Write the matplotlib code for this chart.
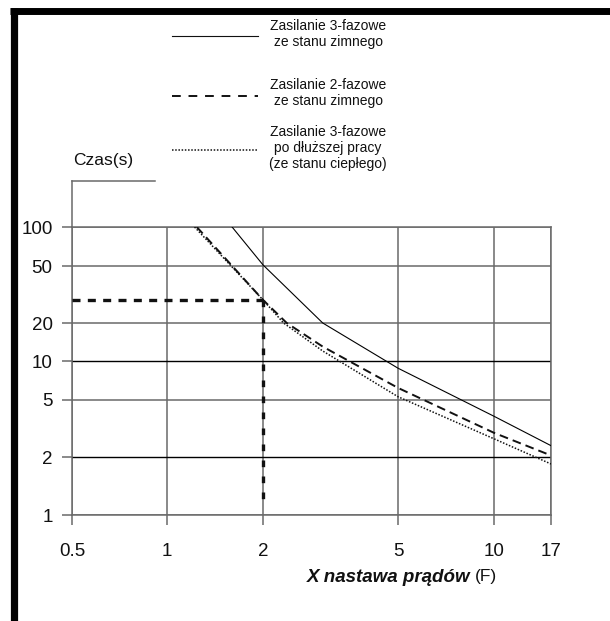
import numpy as np
import matplotlib
matplotlib.use('Agg')
import matplotlib.pyplot as plt
from matplotlib.lines import Line2D

plt.rcParams['font.family'] = ['Liberation Sans', 'DejaVu Sans']

# axis ticks
xticks = [0.5, 1, 2, 5, 10, 17]
xticklabels = ['0.5', '1', '2', '5', '10', '17']
yticks = [1, 2, 5, 10, 20, 50, 100]
yticklabels = ['1', '2', '5', '10', '20', '50', '100']

# curves
x_3f_cold = [1.6, 2, 3, 5, 10, 17]
y_3f_cold = [100, 51, 20, 8.8, 3.85, 2.4]

x_2f_cold = [1.24, 2, 2.35, 3, 5, 10, 17]
y_2f_cold = [100, 29, 20, 13, 6.2, 2.95, 2.05]

x_3f_warm = [1.22, 2, 2.3, 3, 5, 10, 17]
y_3f_warm = [100, 29, 20, 12, 5.3, 2.68, 1.84]

# example reading: setting 2 -> about 29 s
x_read = 2
y_read = 29

legend_labels = ['Zasilanie 3-fazowe\nze stanu zimnego',
                 'Zasilanie 2-fazowe\nze stanu zimnego',
                 'Zasilanie 3-fazowe\npo dłuższej pracy\n(ze stanu ciepłego)']

# the printed scale is only roughly logarithmic: pixel place of every tick
W, H = 610, 621
xtick_px = [72, 167, 263, 398, 494, 551]
ytick_px = [515, 457, 400, 361, 323, 266, 227]


def make_scale(vals, pos):
    lv = np.log10(vals)
    pos = np.asarray(pos, float)

    def fwd(v):
        v = np.log10(np.clip(np.asarray(v, float), 1e-9, None))
        out = np.interp(v, lv, pos)
        lo_s = (pos[1] - pos[0]) / (lv[1] - lv[0])
        hi_s = (pos[-1] - pos[-2]) / (lv[-1] - lv[-2])
        out = np.where(v < lv[0], pos[0] + (v - lv[0]) * lo_s, out)
        out = np.where(v > lv[-1], pos[-1] + (v - lv[-1]) * hi_s, out)
        return out

    def inv(p):
        p = np.asarray(p, float)
        out = np.interp(p, pos, lv)
        lo_s = (lv[1] - lv[0]) / (pos[1] - pos[0])
        hi_s = (lv[-1] - lv[-2]) / (pos[-1] - pos[-2])
        out = np.where(p < pos[0], lv[0] + (p - pos[0]) * lo_s, out)
        out = np.where(p > pos[-1], lv[-1] + (p - pos[-1]) * hi_s, out)
        return 10 ** out

    return fwd, inv


fig = plt.figure(figsize=(W / 100, H / 100), dpi=100)
ax = fig.add_axes([72 / W, 1 - 515 / H, (551 - 72) / W, (515 - 227) / H])

ax.set_xscale('function', functions=make_scale(xticks, xtick_px))
ax.set_yscale('function', functions=make_scale(yticks, [-p for p in ytick_px]))
ax.set_xlim(0.5, 17)
ax.set_ylim(1, 100)

grey = '#6a6a6a'
ax.set_xticks(xticks)
ax.set_xticklabels(xticklabels)
ax.set_yticks(yticks)
ax.set_yticklabels(yticklabels)
ax.minorticks_off()
ax.tick_params(axis='both', direction='out', length=7, width=1.1, color=grey,
               labelsize=13.5, labelcolor='#111111')
ax.tick_params(axis='x', pad=13)
ax.tick_params(axis='y', pad=7)
ax.grid(True, color=grey, lw=1.1)
for sp in ax.spines.values():
    sp.set_color(grey)
    sp.set_linewidth(1.1)

# the 10 and 2 lines are printed black
for v, gl, tk in zip(yticks, ax.yaxis.get_gridlines(), ax.yaxis.get_major_ticks()):
    if v in (10, 2):
        gl.set_color('black')
        gl.set_linewidth(1.0)
        tk.tick1line.set_color('black')

ax.plot(x_3f_cold, y_3f_cold, color='black', lw=0.8, zorder=3)
ax.plot(x_2f_cold, y_2f_cold, color='#111111', lw=1.4, ls=(0, (4.5, 2.6)), zorder=3)
ax.plot(x_3f_warm, y_3f_warm, color='#111111', lw=1.1, ls=(0, (1, 1.1)), zorder=3)

# reading lines
ax.plot([0.5, x_read], [y_read, y_read], color='#111111', lw=2.4, ls=(0, (2.4, 2.2)),
        zorder=4, clip_on=False)
ax.plot([x_read, x_read], [y_read, 1.15], color='#111111', lw=2.4, ls=(0, (2.0, 2.8)),
        zorder=4, clip_on=False)

# y axis carried up to the unit label
fig.add_artist(Line2D([72 / W, 72 / W], [1 - 181 / H, 1 - 227 / H], color=grey, lw=1.1))
fig.add_artist(Line2D([72 / W, 155 / W], [1 - 181 / H, 1 - 181 / H], color=grey, lw=1.1))
fig.text(73 / W, 1 - 160 / H, 'Czas(s)', fontsize=12.5, ha='left', va='center', color='#111111')

# x label
fig.text(470 / W, 1 - 577 / H, 'X nastawa prądów', fontsize=13.5, fontweight='bold',
         fontstyle='italic', ha='right', va='center', color='#111111')
fig.text(475 / W, 1 - 577 / H, '(F)', fontsize=12.5, ha='left', va='center', color='#111111')

# legend drawn by hand
styles = [dict(lw=0.8, ls='-'),
          dict(lw=1.4, ls=(0, (4.5, 4.0))),
          dict(lw=1.1, ls=(0, (1, 1.1)))]
sample_y = [36, 96, 150]
text_y = [34, 93, 148]
for lab, st, sy, ty in zip(legend_labels, styles, sample_y, text_y):
    fig.add_artist(Line2D([172 / W, 258 / W], [1 - sy / H, 1 - sy / H], color='#111111', **st))
    fig.text(328 / W, 1 - ty / H, lab, fontsize=10, ha='center', va='center',
             linespacing=1.2, color='#111111')

# thick frame on the left and on top
fig.add_artist(Line2D([13.5 / W, 13.5 / W], [0, 1 - 8 / H], color='black', lw=5.2,
                      solid_capstyle='butt'))
fig.add_artist(Line2D([10 / W, 1], [1 - 11 / H, 1 - 11 / H], color='black', lw=5.0,
                      solid_capstyle='butt'))

fig.savefig('out.png', dpi=100)
